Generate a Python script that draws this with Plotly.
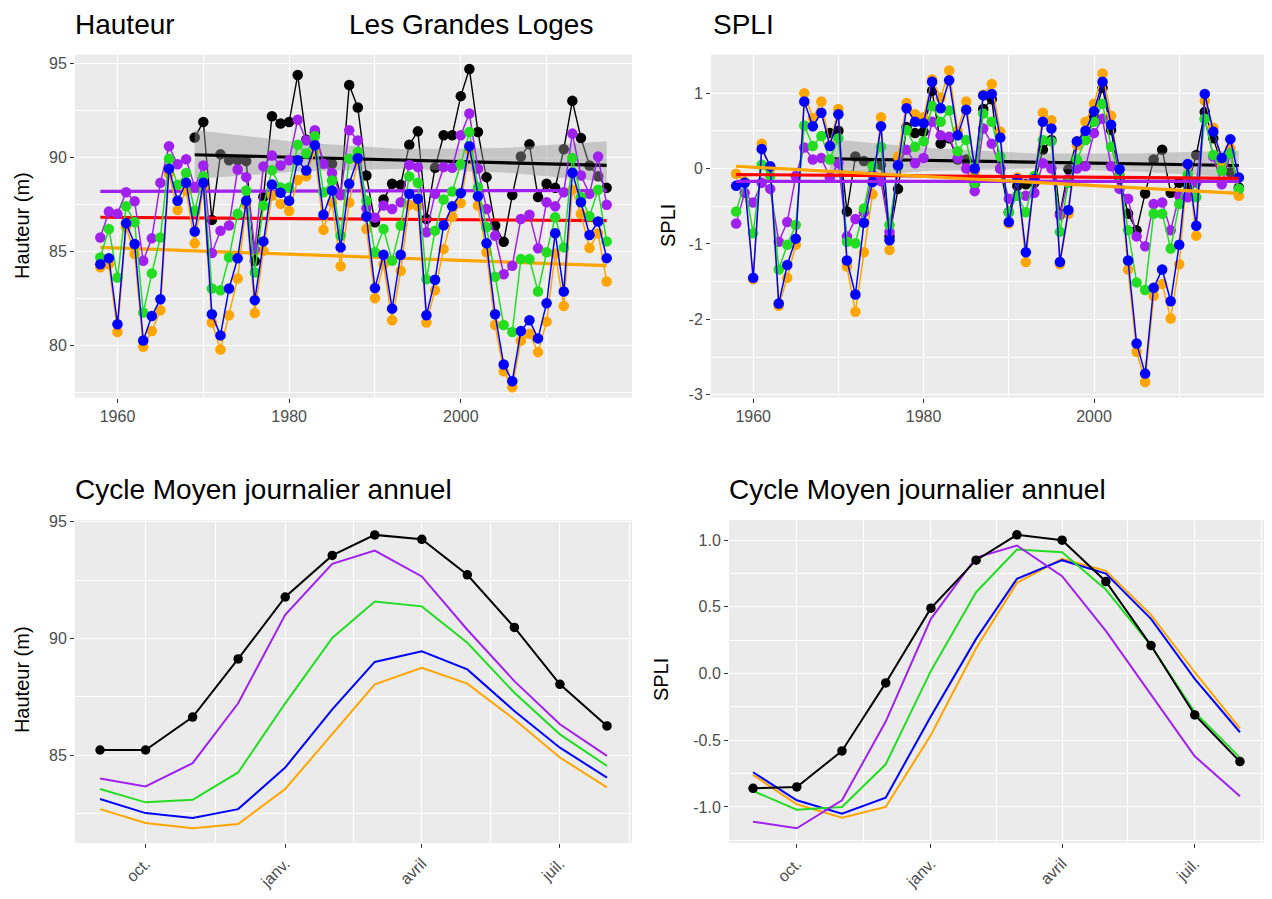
import plotly.graph_objects as go

# ---------------- DATA ----------------
years = list(range(1958, 2018))
years_black = list(range(1969, 2018))

# Hauteur (m) annual series
h_black = [91.05, 91.88, 86.68, 90.16, 89.84, 89.84, 89.8, 84.5, 87.9, 92.18,
           91.8, 91.88, 94.37, 90.94, 91.3, 89.75, 89.66, 88.0, 93.84, 92.65,
           89.04, 86.55, 87.76, 88.6, 88.54, 90.67, 91.38, 86.73, 89.45, 91.17,
           91.17, 93.25, 94.69, 91.35, 88.95, 86.38, 85.52, 88.0, 90.05, 90.69,
           87.89, 88.6, 88.38, 90.43, 93.0, 91.03, 89.57, 89.0, 88.38]
h_purple = [85.75, 87.12, 87.0, 88.15, 87.67, 84.51, 85.7, 88.65, 90.59, 89.63,
            89.9, 88.42, 89.57, 84.92, 86.1, 86.38, 89.36, 88.95, 85.13, 89.52,
            90.1, 89.57, 89.84, 92.0, 90.9, 91.44, 89.66, 89.17, 88.0, 91.44,
            90.9, 87.3, 86.8, 87.44, 87.26, 87.62, 89.6, 89.48, 86.02, 88.06,
            89.48, 89.45, 91.17, 92.33, 89.4, 87.26, 85.84, 83.8, 84.25, 86.73,
            86.95, 85.17, 87.62, 87.4, 88.15, 91.26, 89.04, 88.06, 90.05, 87.48]
h_green = [84.69, 86.2, 83.62, 87.4, 86.55, 81.76, 83.84, 85.75, 89.93, 88.54,
           89.17, 87.17, 88.99, 83.04, 82.95, 84.69, 87.0, 88.24, 83.89, 87.44,
           89.31, 88.4, 88.4, 90.67, 90.2, 91.12, 88.15, 88.77, 85.84, 89.93,
           90.28, 87.7, 84.96, 86.2, 84.51, 86.38, 88.99, 88.65, 83.53, 86.11,
           87.76, 88.19, 89.63, 91.35, 88.42, 86.29, 83.66, 81.1, 80.73, 84.6,
           84.6, 82.88, 84.96, 86.82, 85.22, 89.96, 87.89, 86.87, 88.28, 85.54]
h_blue = [84.33, 84.65, 81.14, 86.5, 85.4, 80.28, 81.58, 82.47, 89.4, 87.7,
          88.65, 86.06, 88.65, 81.67, 80.55, 83.04, 84.64, 87.7, 82.42, 85.54,
          88.56, 88.12, 87.7, 89.84, 89.3, 90.64, 86.95, 88.24, 85.22, 88.6,
          89.95, 86.86, 83.06, 84.83, 81.97, 84.83, 88.06, 87.8, 81.62, 83.5,
          86.4, 87.4, 88.1, 90.59, 87.94, 85.44, 81.67, 79.0, 78.12, 80.78,
          81.35, 80.39, 82.26, 85.97, 82.88, 89.18, 87.62, 85.88, 86.6, 84.65]
h_orange = [84.16, 84.33, 80.73, 86.29, 84.87, 79.95, 80.78, 81.88, 89.13, 87.21,
            88.24, 85.44, 88.42, 81.23, 79.8, 81.62, 83.57, 87.48, 81.74, 85.04,
            87.97, 87.53, 87.15, 88.8, 89.0, 90.37, 86.15, 87.62, 84.22, 87.6,
            89.84, 86.2, 82.52, 84.33, 81.35, 83.98, 87.48, 87.4, 81.23, 82.95,
            85.13, 86.86, 87.57, 90.41, 87.44, 84.96, 81.1, 78.65, 77.8, 80.28,
            80.64, 79.66, 81.28, 84.9, 82.11, 88.28, 87.0, 85.19, 85.97, 83.41]

# SPLI annual series
s_black = [0.47, 0.5, -0.57, 0.16, 0.1, 0.07, 0.05, -0.9, -0.27, 0.55,
           0.47, 0.49, 1.03, 0.33, 0.4, 0.12, 0.12, -0.2, 0.79, 0.92,
           0.0, -0.58, -0.23, -0.21, -0.19, 0.25, 0.38, -0.6, -0.01, 0.36,
           0.38, 0.68, 1.07, 0.51, -0.14, -0.6, -0.82, -0.33, 0.12, 0.25,
           -0.32, -0.19, -0.22, 0.18, 0.75, 0.4, 0.05, -0.05, -0.25]
s_purple = [-0.73, -0.32, -0.45, -0.19, -0.27, -0.97, -0.71, -0.1, 0.28, 0.12,
            0.14, -0.12, 0.07, -0.9, -0.67, -0.58, -0.08, -0.17, -0.84, 0.05,
            0.25, 0.07, 0.14, 0.62, 0.44, 0.42, 0.14, 0.0, -0.3, 0.53,
            0.33, 0.0, -0.4, -0.36, -0.36, -0.32, 0.07, 0.0, -0.62, -0.14,
            0.0, 0.03, 0.47, 0.66, 0.03, -0.27, -0.4, -0.9, -1.03, -0.47,
            -0.45, -0.82, -0.36, -0.38, -0.19, 0.66, 0.16, -0.21, 0.2, -0.27]
s_green = [-0.57, -0.19, -0.86, 0.05, -0.1, -1.34, -1.01, -0.75, 0.57, 0.3,
           0.43, 0.12, 0.4, -0.97, -0.99, -0.53, 0.03, 0.29, -0.75, 0.03,
           0.51, 0.29, 0.36, 0.83, 0.62, 0.77, 0.23, 0.38, -0.19, 0.73,
           0.62, 0.16, -0.58, -0.36, -0.58, -0.1, 0.38, 0.36, -0.84, -0.19,
           0.12, 0.38, 0.62, 0.86, 0.29, -0.1, -0.82, -1.51, -1.61, -0.6,
           -0.6, -1.06, -0.47, -0.08, -0.38, 0.66, 0.18, -0.03, 0.2, -0.27]
s_blue = [-0.23, -0.19, -1.45, 0.26, 0.03, -1.79, -1.28, -0.93, 0.89, 0.56,
          0.74, 0.3, 0.72, -1.22, -1.67, -0.72, -0.18, 0.56, -0.95, 0.04,
          0.8, 0.62, 0.6, 1.15, 0.8, 1.17, 0.44, 0.78, 0.0, 0.97,
          0.99, 0.41, -0.71, -0.14, -1.11, -0.14, 0.62, 0.53, -1.24, -0.55,
          0.36, 0.5, 0.76, 1.15, 0.58, -0.01, -1.22, -2.32, -2.72, -1.58,
          -1.34, -1.76, -1.01, 0.06, -0.76, 0.99, 0.49, 0.14, 0.39, -0.12]
s_orange = [-0.07, -0.17, -1.47, 0.33, 0.0, -1.82, -1.45, -1.01, 1.0, 0.67,
            0.89, 0.31, 0.79, -1.3, -1.9, -1.11, -0.34, 0.68, -1.08, 0.16,
            0.87, 0.72, 0.68, 1.18, 0.94, 1.3, 0.5, 0.89, -0.05, 0.98,
            1.12, 0.49, -0.73, -0.12, -1.24, -0.12, 0.74, 0.64, -1.27, -0.6,
            0.31, 0.62, 0.86, 1.26, 0.7, -0.08, -1.34, -2.43, -2.83, -1.69,
            -1.53, -1.99, -1.27, 0.05, -0.89, 0.9, 0.54, 0.05, 0.27, -0.36]

# Linear trends (value at first and last year)
trend_years = [1958, 2017]
trend_years_black = [1969, 2017]
h_trend_black = [90.14, 89.57]
h_trend_purple = [88.19, 88.24]
h_trend_red = [86.82, 86.64]
h_trend_orange = [85.22, 84.25]
s_trend_black = [0.13, 0.04]
s_trend_purple = [-0.17, -0.17]
s_trend_red = [-0.08, -0.13]
s_trend_orange = [0.03, -0.33]

# Confidence band of the black trend
band_years = [1969, 1981, 1993, 2005, 2017]
h_band_up = [91.45, 90.8, 90.45, 90.5, 90.85]
h_band_lo = [88.85, 89.25, 89.4, 89.2, 88.7]
s_band_up = [0.39, 0.27, 0.2, 0.2, 0.24]
s_band_lo = [-0.13, -0.03, 0.0, -0.04, -0.12]

# Mean annual cycle (monthly, Sept -> Aug)
months = ["2000-09-01", "2000-10-01", "2000-11-01", "2000-12-01", "2001-01-01", "2001-02-01",
          "2001-03-01", "2001-04-01", "2001-05-01", "2001-06-01", "2001-07-01", "2001-08-01"]
cyc_h_black = [85.23, 85.23, 86.64, 89.13, 91.78, 93.56, 94.44, 94.25, 92.73, 90.48, 88.04, 86.26]
cyc_h_purple = [84.01, 83.67, 84.67, 87.23, 91.02, 93.2, 93.77, 92.66, 90.38, 88.18, 86.33, 84.98]
cyc_h_green = [83.56, 82.99, 83.1, 84.27, 87.23, 90.03, 91.59, 91.38, 89.82, 87.68, 85.9, 84.55]
cyc_h_blue = [83.13, 82.53, 82.32, 82.7, 84.48, 86.97, 89.0, 89.46, 88.68, 86.9, 85.33, 84.05]
cyc_h_orange = [82.7, 82.11, 81.88, 82.06, 83.56, 85.9, 88.04, 88.75, 88.07, 86.54, 84.91, 83.63]

cyc_s_black = [-0.86, -0.85, -0.58, -0.07, 0.49, 0.85, 1.04, 1.0, 0.69, 0.21, -0.31, -0.66]
cyc_s_purple = [-1.11, -1.16, -0.95, -0.36, 0.41, 0.87, 0.96, 0.73, 0.32, -0.16, -0.62, -0.92]
cyc_s_green = [-0.88, -1.02, -1.0, -0.68, 0.02, 0.61, 0.93, 0.91, 0.63, 0.21, -0.29, -0.63]
cyc_s_blue = [-0.74, -0.95, -1.05, -0.93, -0.32, 0.26, 0.71, 0.85, 0.75, 0.41, -0.04, -0.44]
cyc_s_orange = [-0.76, -0.98, -1.08, -1.0, -0.46, 0.19, 0.68, 0.86, 0.77, 0.44, 0.01, -0.41]

month_ticks = ["2000-10-01", "2001-01-01", "2001-04-01", "2001-07-01"]
month_labels = ["oct.", "janv.", "avril", "juil."]
month_minor = ["2000-11-16", "2001-02-15", "2001-05-16", "2001-08-16"]

spli_ticks = [-3, -2, -1, 0, 1]
spli_labels = ["-3", "-2", "-1", "0", "1"]
cyc_spli_ticks = [-1.0, -0.5, 0.0, 0.5, 1.0]
cyc_spli_labels = ["-1.0", "-0.5", "0.0", "0.5", "1.0"]

# ---------------- STYLE ----------------
C_BLACK = "#000000"
C_PURPLE = "#A020F0"
C_GREEN = "#22DD22"
C_BLUE = "#0000FF"
C_ORANGE = "#FFA500"
C_RED = "#FF0000"
FONT = "Liberation Sans"
OX, OY = 8, 8            # page body margin
W, H = 1272 - 2 * OX, 899 - 2 * OY
YS, YO = 0.9877, 6.4     # observed vertical fit of the page in the window

fig = go.Figure()


def clamp(v):
    return max(0.0, min(1.0, v))


def fx(x):
    return clamp((x - OX) / W)


def fy(y):
    p = (y - YO) / YS
    return clamp(1 - (p - OY) / H)


def series(x, y, color, xa, ya, marker=True, lw=1.5, msize=10.5):
    fig.add_trace(go.Scatter(
        x=x, y=y, mode="lines+markers" if marker else "lines",
        line=dict(color=color, width=lw),
        marker=dict(color=color, size=msize),
        xaxis=xa, yaxis=ya, showlegend=False, hoverinfo="skip"))


def band(x, lo, up, xa, ya):
    fig.add_trace(go.Scatter(
        x=list(x) + list(x)[::-1], y=list(up) + list(lo)[::-1],
        fill="toself", fillcolor="rgba(153,153,153,0.45)", line=dict(width=0),
        mode="lines", xaxis=xa, yaxis=ya, showlegend=False, hoverinfo="skip"))


def trend(x, y, color, xa, ya):
    fig.add_trace(go.Scatter(
        x=x, y=y, mode="lines", line=dict(color=color, width=3.2),
        xaxis=xa, yaxis=ya, showlegend=False, hoverinfo="skip"))


# Top-left: Hauteur
series(years_black, h_black, C_BLACK, "x", "y", lw=1.4)
band(band_years, h_band_lo, h_band_up, "x", "y")
trend(trend_years_black, h_trend_black, C_BLACK, "x", "y")
trend(trend_years, h_trend_purple, C_PURPLE, "x", "y")
trend(trend_years, h_trend_red, C_RED, "x", "y")
trend(trend_years, h_trend_orange, C_ORANGE, "x", "y")
series(years, h_orange, C_ORANGE, "x", "y")
series(years, h_purple, C_PURPLE, "x", "y")
series(years, h_green, C_GREEN, "x", "y")
series(years, h_blue, C_BLUE, "x", "y")

# Top-right: SPLI
series(years_black, s_black, C_BLACK, "x2", "y2", lw=1.4)
band(band_years, s_band_lo, s_band_up, "x2", "y2")
trend(trend_years_black, s_trend_black, C_BLACK, "x2", "y2")
series(years, s_orange, C_ORANGE, "x2", "y2")
series(years, s_purple, C_PURPLE, "x2", "y2")
series(years, s_green, C_GREEN, "x2", "y2")
series(years, s_blue, C_BLUE, "x2", "y2")
trend(trend_years, s_trend_purple, C_PURPLE, "x2", "y2")
trend(trend_years, s_trend_red, C_RED, "x2", "y2")
trend(trend_years, s_trend_orange, C_ORANGE, "x2", "y2")

# Bottom-left: cycle Hauteur
series(months, cyc_h_orange, C_ORANGE, "x3", "y3", marker=False, lw=2)
series(months, cyc_h_blue, C_BLUE, "x3", "y3", marker=False, lw=2)
series(months, cyc_h_green, C_GREEN, "x3", "y3", marker=False, lw=2)
series(months, cyc_h_purple, C_PURPLE, "x3", "y3", marker=False, lw=2)
series(months, cyc_h_black, C_BLACK, "x3", "y3", lw=2, msize=9.5)

# Bottom-right: cycle SPLI
series(months, cyc_s_orange, C_ORANGE, "x4", "y4", marker=False, lw=2)
series(months, cyc_s_blue, C_BLUE, "x4", "y4", marker=False, lw=2)
series(months, cyc_s_green, C_GREEN, "x4", "y4", marker=False, lw=2)
series(months, cyc_s_purple, C_PURPLE, "x4", "y4", marker=False, lw=2)
series(months, cyc_s_black, C_BLACK, "x4", "y4", lw=2, msize=9.5)

tickfont = dict(family=FONT, size=16, color="#4D4D4D")
common = dict(showgrid=True, gridcolor="white", gridwidth=1.3, zeroline=False,
              ticks="outside", ticklen=4, tickwidth=1.2, tickcolor="#333333",
              tickfont=tickfont, showline=False)


def minor(vals):
    return dict(tickmode="array", tickvals=vals, showgrid=True,
                gridcolor="white", gridwidth=0.6, ticks="")


top_y = [fy(402), fy(54.5)]
bot_y = [fy(853), fy(526)]

fig.update_layout(
    width=W, height=H, margin=dict(l=0, r=0, t=0, b=0),
    paper_bgcolor="white", plot_bgcolor="#EBEBEB",
    font=dict(family=FONT),
    xaxis=dict(domain=[fx(75), fx(632)], anchor="y", range=[1955.05, 2019.95],
               tickmode="array", tickvals=[1960, 1980, 2000],
               minor=minor([1970, 1990, 2010]), **common),
    yaxis=dict(domain=top_y, anchor="x", range=[77.24, 95.45],
               tickmode="array", tickvals=[80, 85, 90, 95],
               minor=minor([77.5, 82.5, 87.5, 92.5]), **common),
    xaxis2=dict(domain=[fx(711), fx(1268)], anchor="y2", range=[1955.05, 2019.95],
                tickmode="array", tickvals=[1960, 1980, 2000],
                minor=minor([1970, 1990, 2010]), **common),
    yaxis2=dict(domain=top_y, anchor="x2", range=[-3.04, 1.51],
                tickmode="array", tickvals=spli_ticks, ticktext=spli_labels,
                minor=minor([-2.5, -1.5, -0.5, 0.5, 1.5]), **common),
    xaxis3=dict(domain=[fx(75), fx(632)], anchor="y3", type="date",
                range=["2000-08-15 12:00", "2001-08-17 12:00"],
                tickmode="array", tickvals=month_ticks, ticktext=month_labels,
                tickangle=-45, minor=minor(month_minor), **common),
    yaxis3=dict(domain=bot_y, anchor="x3", range=[81.25, 95.07],
                tickmode="array", tickvals=[85, 90, 95],
                minor=minor([82.5, 87.5, 92.5]), **common),
    xaxis4=dict(domain=[fx(729), fx(1268)], anchor="y4", type="date",
                range=["2000-08-15 12:00", "2001-08-17 12:00"],
                tickmode="array", tickvals=month_ticks, ticktext=month_labels,
                tickangle=-45, minor=minor(month_minor), **common),
    yaxis4=dict(domain=bot_y, anchor="x4", range=[-1.27, 1.15],
                tickmode="array", tickvals=cyc_spli_ticks, ticktext=cyc_spli_labels,
                minor=minor([-1.25, -0.75, -0.25, 0.25, 0.75]), **common),
)


def text(s, x, y, size, xanchor="left", angle=0):
    fig.add_annotation(text=s, x=fx(x), y=fy(y),
                       xref="paper", yref="paper",
                       xanchor=xanchor, yanchor="middle", showarrow=False,
                       textangle=angle, font=dict(family=FONT, size=size, color="black"))


text("Hauteur", 73, 24, 28)
text("Les Grandes Loges", 347, 24, 28)
text("SPLI", 711, 24, 28)
text("Cycle Moyen journalier annuel", 73, 495, 28)
text("Cycle Moyen journalier annuel", 727, 495, 28)
text("Hauteur (m)", 22, 228, 20, xanchor="center", angle=-90)
text("SPLI", 668, 228, 20, xanchor="center", angle=-90)
text("Hauteur (m)", 22, 688, 20, xanchor="center", angle=-90)
text("SPLI", 661, 688, 20, xanchor="center", angle=-90)

fig.write_html("out.html")
